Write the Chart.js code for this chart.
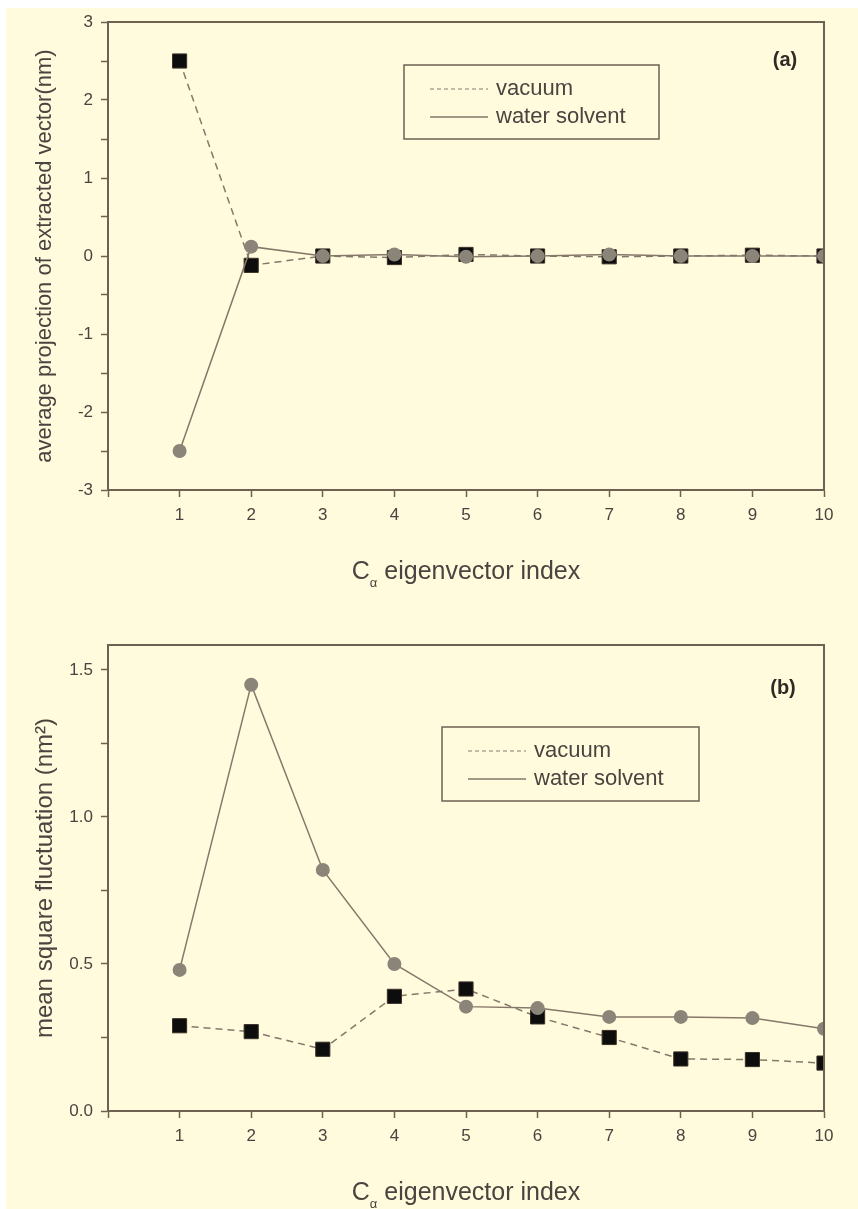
<!DOCTYPE html>
<html>
<head>
<meta charset="utf-8">
<script src="https://cdn.jsdelivr.net/npm/chart.js@4.4.1/dist/chart.umd.min.js"></script>
<style>
  html, body { margin: 0; padding: 0; background: #ffffff; }
  #paper { position: absolute; left: 6px; top: 8px; width: 852px; height: 1201px; background: #fffbdc; }
  .panel { position: absolute; left: 0; width: 858px; }
  #panel-a { top: 0; height: 600px; }
  #panel-b { top: 600px; height: 609px; }
</style>
</head>
<body>
<div id="paper"></div>
<div class="panel" id="panel-a"><canvas id="chart-a"></canvas></div>
<div class="panel" id="panel-b"><canvas id="chart-b"></canvas></div>
<script>
// eigenvector index on the x axis
const eigenIndex = [1, 2, 3, 4, 5, 6, 7, 8, 9, 10];

// (a) average projection of extracted vector (nm)
const vacuumProjection = [2.5, -0.12, 0.0, -0.02, 0.02, 0.0, -0.01, 0.0, 0.01, 0.0];
const waterProjection = [-2.5, 0.12, 0.0, 0.02, -0.01, 0.0, 0.02, 0.0, 0.0, 0.0];

// (b) mean square fluctuation (nm^2)
const vacuumFluct = [0.29, 0.27, 0.21, 0.39, 0.415, 0.32, 0.25, 0.177, 0.175, 0.163];
const waterFluct = [0.48, 1.45, 0.82, 0.50, 0.355, 0.35, 0.32, 0.32, 0.316, 0.28];

// labelled ticks
const projTickLabels = [-3, -2, -1, 0, 1, 2, 3];
const fluctTickLabels = [0.0, 0.5, 1.0, 1.5];
const seriesNames = ["vacuum", "water solvent"];

const axisColor = "#6e6152";
const lineColor = "#85776a";
const textColor = "#4a4440";
const fontFamily = "'Liberation Sans', Arial, sans-serif";

function toPoints(values) {
  return eigenIndex.map((x, i) => ({ x, y: values[i] }));
}

const framePlugin = {
  id: "frame",
  afterDraw(chart, _args, opts) {
    const { ctx, chartArea: a } = chart;
    ctx.save();

    // top and right edges of the frame
    ctx.strokeStyle = axisColor;
    ctx.lineWidth = 2;
    ctx.beginPath();
    ctx.moveTo(a.left, a.top);
    ctx.lineTo(a.right, a.top);
    ctx.lineTo(a.right, a.bottom);
    ctx.stroke();

    // x title with subscript alpha
    const big = `25px ${fontFamily}`;
    const small = `13px ${fontFamily}`;
    ctx.fillStyle = textColor;
    ctx.textBaseline = "alphabetic";
    ctx.textAlign = "left";
    ctx.font = big;
    const wC = ctx.measureText("C").width;
    const wRest = ctx.measureText(" eigenvector index").width;
    ctx.font = small;
    const wA = ctx.measureText("\u03b1").width;
    const total = wC + wA + wRest;
    let tx = (a.left + a.right) / 2 - total / 2;
    const ty = a.bottom + opts.titleOffset;
    ctx.font = big;
    ctx.fillText("C", tx, ty);
    tx += wC;
    ctx.font = small;
    ctx.fillText("\u03b1", tx, ty + 8);
    tx += wA;
    ctx.font = big;
    ctx.fillText(" eigenvector index", tx, ty);

    // legend box
    const box = opts.legend;
    ctx.strokeStyle = axisColor;
    ctx.lineWidth = 1.5;
    ctx.strokeRect(box.x, box.y, box.w, box.h);
    ctx.font = `22px ${fontFamily}`;
    ctx.textBaseline = "middle";
    const rows = [chart.data.datasets[1], chart.data.datasets[0]];
    rows.forEach((ds, i) => {
      const ry = box.y + 24 + i * 28;
      ctx.strokeStyle = i === 0 ? "#b3a594" : lineColor;
      ctx.lineWidth = 1.5;
      ctx.setLineDash(i === 0 ? [4, 3] : []);
      ctx.beginPath();
      ctx.moveTo(box.x + 26, ry);
      ctx.lineTo(box.x + 84, ry);
      ctx.stroke();
      ctx.setLineDash([]);
      ctx.fillStyle = textColor;
      ctx.fillText(ds.label, box.x + 92, ry);
    });

    // panel tag
    ctx.font = `bold 20px ${fontFamily}`;
    ctx.textAlign = "center";
    ctx.fillStyle = "#2e2a26";
    ctx.fillText(opts.tag, opts.tagX, opts.tagY);

    ctx.restore();
  },
};

function buildPanel(canvas, cfg) {
  return new Chart(canvas.getContext("2d"), {
    type: "line",
    data: {
      datasets: [
        {
          label: seriesNames[1],
          data: toPoints(cfg.water),
          borderColor: lineColor,
          borderWidth: 1.5,
          pointStyle: "circle",
          pointRadius: 7,
          pointBackgroundColor: "#8b8478",
          pointBorderColor: "#8b8478",
          pointBorderWidth: 0,
          order: 0,
        },
        {
          label: seriesNames[0],
          data: toPoints(cfg.vacuum),
          borderColor: lineColor,
          borderWidth: 1.5,
          borderDash: [7, 5],
          pointStyle: "rect",
          pointRadius: 10,
          pointBackgroundColor: "#0d0d0d",
          pointBorderColor: "#3a3028",
          pointBorderWidth: 1,
          order: 1,
        },
      ],
    },
    options: {
      responsive: true,
      maintainAspectRatio: false,
      animation: false,
      layout: { padding: { top: cfg.padTop, right: 34, left: 0, bottom: 0 } },
      plugins: {
        legend: { display: false },
        tooltip: { enabled: false },
        frame: cfg.frame,
      },
      scales: {
        x: {
          type: "linear",
          min: 0,
          max: 10,
          afterFit: (scale) => { scale.height = cfg.xHeight; },
          afterBuildTicks: (scale) => {
            scale.ticks = [0].concat(eigenIndex).map((v) => ({ value: v }));
          },
          ticks: {
            color: textColor,
            padding: 8,
            font: { family: fontFamily, size: 17 },
            callback: (v) => (v === 0 ? "" : String(v)),
          },
          grid: { drawOnChartArea: false, drawTicks: true, tickLength: 7, tickColor: axisColor, tickWidth: 1.5 },
          border: { display: true, color: axisColor, width: 2 },
        },
        y: {
          type: "linear",
          min: cfg.yMin,
          max: cfg.yMax,
          afterFit: (scale) => { scale.width = 108; },
          afterBuildTicks: (scale) => {
            const out = [];
            for (let v = cfg.yMin; v <= cfg.yMax + 1e-9; v += cfg.minorStep) {
              out.push({ value: Math.round(v * 1000) / 1000 });
            }
            scale.ticks = out;
          },
          ticks: {
            color: textColor,
            padding: 8,
            font: { family: fontFamily, size: 17 },
            callback: (v) => {
              const hit = cfg.tickLabels.find((t) => Math.abs(t - v) < 1e-6);
              return hit === undefined ? "" : cfg.fmt(hit);
            },
          },
          grid: { drawOnChartArea: false, drawTicks: true, tickLength: 7, tickColor: axisColor, tickWidth: 1.5 },
          border: { display: true, color: axisColor, width: 2 },
          title: {
            display: true,
            text: cfg.yTitle,
            color: textColor,
            font: { family: fontFamily, size: cfg.yTitleSize },
            padding: { top: 45 - cfg.yTitleSize * 0.6, bottom: 0 },
          },
        },
      },
    },
    plugins: [framePlugin],
  });
}

buildPanel(document.querySelector("#chart-a"), {
  water: waterProjection,
  vacuum: vacuumProjection,
  yMin: -3,
  yMax: 3,
  minorStep: 0.5,
  tickLabels: projTickLabels,
  fmt: (v) => String(v),
  yTitle: "average projection of extracted vector(nm)",
  yTitleSize: 22,
  padTop: 22,
  xHeight: 110,
  frame: {
    titleOffset: 89,
    legend: { x: 404, y: 65, w: 255, h: 74 },
    tag: "(a)",
    tagX: 785,
    tagY: 60,
  },
});

buildPanel(document.querySelector("#chart-b"), {
  water: waterFluct,
  vacuum: vacuumFluct,
  yMin: 0,
  yMax: 1.585,
  minorStep: 0.25,
  tickLabels: fluctTickLabels,
  fmt: (v) => v.toFixed(1),
  yTitle: "mean square fluctuation (nm\u00b2)",
  yTitleSize: 24,
  padTop: 45,
  xHeight: 98,
  frame: {
    titleOffset: 89,
    legend: { x: 442, y: 127, w: 257, h: 74 },
    tag: "(b)",
    tagX: 783,
    tagY: 88,
  },
});
</script>
</body>
</html>
